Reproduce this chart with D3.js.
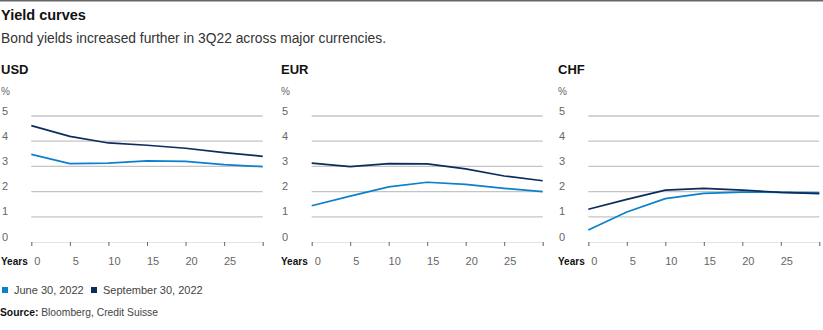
<!DOCTYPE html>
<html>
<head>
<meta charset="utf-8">
<script src="https://cdn.jsdelivr.net/npm/d3@7"></script>
<style>
  body { margin: 0; background: #fff; }
  svg { font-family: "Liberation Sans", Arial, sans-serif; }
</style>
</head>
<body>
<div id="chart"></div>
<script>
// data
const years = [0, 5, 10, 15, 20, 25, 30];
const yTicks = [0, 1, 2, 3, 4, 5];
const xTicks = [0, 5, 10, 15, 20, 25];
const currencies = ["USD", "EUR", "CHF"];
const seriesNames = ["June 30, 2022", "September 30, 2022"];
const usdJune = [3.48, 3.11, 3.13, 3.22, 3.2, 3.07, 2.99];
const usdSep = [4.62, 4.19, 3.93, 3.84, 3.72, 3.55, 3.4];
const eurJune = [1.44, 1.82, 2.19, 2.37, 2.29, 2.13, 2.0];
const eurSep = [3.13, 2.99, 3.11, 3.1, 2.9, 2.62, 2.43];
const chfJune = [0.48, 1.19, 1.72, 1.93, 1.98, 1.97, 1.95];
const chfSep = [1.3, 1.69, 2.06, 2.13, 2.06, 1.97, 1.92];

const colors = {june: "#0b80cc", sep: "#0c2c5c"};

const W = 823, H = 330;
const svg = d3.select("#chart").append("svg")
    .attr("width", W)
    .attr("height", H);

// top rule
svg.append("line")
    .attr("x1", 0).attr("x2", W)
    .attr("y1", 0.75).attr("y2", 0.75)
    .attr("stroke", "#666").attr("stroke-width", 1.5);

svg.append("text")
    .attr("x", 1).attr("y", 20)
    .attr("font-size", 14.5).attr("font-weight", "bold")
    .attr("fill", "#111")
    .text("Yield curves");

svg.append("text")
    .attr("x", 1).attr("y", 43)
    .attr("font-size", 13.8)
    .attr("fill", "#333")
    .text("Bond yields increased further in 3Q22 across major currencies.");

const panels = [
    {name: "USD", left: 1, x0: 31.3, x1: 262.7, june: usdJune, sep: usdSep},
    {name: "EUR", left: 281, x0: 311.7, x1: 542.7, june: eurJune, sep: eurSep},
    {name: "CHF", left: 558, x0: 588.3, x1: 819.3, june: chfJune, sep: chfSep}
];

const y = d3.scaleLinear().domain([0, 5]).range([242, 116]);

panels.forEach(p => {
    const g = svg.append("g");
    const x = d3.scaleLinear().domain([0, 30]).range([p.x0, p.x1]);

    g.append("text")
        .attr("x", p.left).attr("y", 73.5)
        .attr("font-size", 13).attr("font-weight", "bold")
        .attr("fill", "#111")
        .text(p.name);

    g.append("text")
        .attr("x", p.left).attr("y", 95)
        .attr("font-size", 10).attr("fill", "#666")
        .text("%");

    // gridlines
    g.selectAll(".grid")
        .data(yTicks.filter(d => d > 0))
        .enter().append("line")
        .attr("x1", p.x0).attr("x2", p.x1)
        .attr("y1", d => y(d)).attr("y2", d => y(d))
        .attr("stroke", "#c4c4c4").attr("stroke-width", 1.3);

    g.selectAll(".ylab")
        .data(yTicks)
        .enter().append("text")
        .attr("x", p.left + 1)
        .attr("y", d => y(d) - 1.5)
        .attr("font-size", 11).attr("fill", "#666")
        .text(d => d);

    // x axis
    const xAxis = d3.axisBottom(x)
        .tickValues(xTicks.concat([30]))
        .tickSize(4)
        .tickFormat("");
    const ax = g.append("g")
        .attr("transform", `translate(0,${y(0)})`)
        .call(xAxis);
    ax.select(".domain").attr("stroke", "#ddd").attr("stroke-width", 0.8);
    ax.selectAll(".tick line").attr("stroke", "#666");

    g.selectAll(".xlab")
        .data(xTicks)
        .enter().append("text")
        .attr("x", d => x(d) + 6)
        .attr("y", 264.5)
        .attr("text-anchor", "middle")
        .attr("font-size", 11).attr("fill", "#666")
        .text(d => d);

    g.append("text")
        .attr("x", p.left).attr("y", 264.5)
        .attr("font-size", 10).attr("font-weight", "bold")
        .attr("fill", "#111")
        .text("Years");

    const line = d3.line()
        .x((d, i) => x(years[i]))
        .y(d => y(d));

    g.append("path")
        .datum(p.june)
        .attr("d", line)
        .attr("fill", "none")
        .attr("stroke", colors.june)
        .attr("stroke-width", 1.7);

    g.append("path")
        .datum(p.sep)
        .attr("d", line)
        .attr("fill", "none")
        .attr("stroke", colors.sep)
        .attr("stroke-width", 1.7);
});

// legend
const legend = svg.append("g");
const legX = [2, 91];
seriesNames.forEach((s, i) => {
    legend.append("rect")
        .attr("x", legX[i]).attr("y", 287)
        .attr("width", 6).attr("height", 6)
        .attr("fill", i === 0 ? colors.june : colors.sep);
    legend.append("text")
        .attr("x", legX[i] + 12).attr("y", 294)
        .attr("font-size", 11).attr("fill", "#444")
        .text(s);
});

const src = svg.append("text")
    .attr("x", 0).attr("y", 315.5)
    .attr("font-size", 10.3).attr("fill", "#444");
src.append("tspan").attr("font-weight", "bold").attr("fill", "#111").text("Source: ");
src.append("tspan").text("Bloomberg, Credit Suisse");
</script>
</body>
</html>
